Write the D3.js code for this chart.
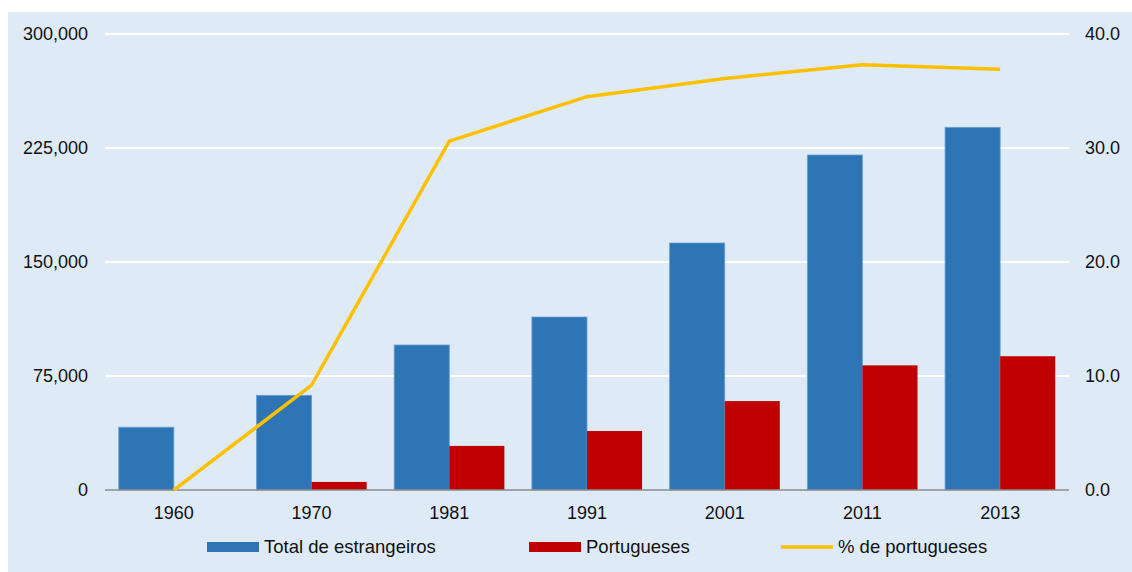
<!DOCTYPE html>
<html>
<head>
<meta charset="utf-8">
<script src="https://cdn.jsdelivr.net/npm/d3@7"></script>
<style>
  body { margin: 0; background: #ffffff; }
  text { font-family: "Liberation Sans", Arial, sans-serif; fill: #111111; }
</style>
</head>
<body>
<div id="chart"></div>
<script>
// Data
var years = ["1960", "1970", "1981", "1991", "2001", "2011", "2013"];
var totalEstrangeiros = [41300, 62300, 95400, 113800, 162500, 220400, 238600];
var portugueses = [0, 5300, 29000, 38800, 58500, 82000, 88000];
var pctPortugueses = [0.0, 9.2, 30.6, 34.5, 36.1, 37.3, 36.9];
var leftTicks = [0, 75000, 150000, 225000, 300000];
var rightTicks = [0, 10, 20, 30, 40];

var svgWidth = 1132, svgHeight = 572;
var margin = { top: 34, right: 63, bottom: 82, left: 105 };
var width = svgWidth - margin.left - margin.right;
var height = svgHeight - margin.top - margin.bottom;
var fontSize = "18px";
var legendFont = "18.5px";

var svg = d3.select("#chart").append("svg")
    .attr("width", svgWidth)
    .attr("height", svgHeight);

// light blue panel
svg.append("rect")
    .attr("x", 8).attr("y", 12)
    .attr("width", svgWidth - 8).attr("height", svgHeight - 12)
    .attr("fill", "#deeaf6");

var g = svg.append("g")
    .attr("transform", `translate(${margin.left}, ${margin.top})`);

var x0 = d3.scaleBand().domain(years).range([0, width]).paddingInner(0.2).paddingOuter(0.1);
var x1 = d3.scaleBand().domain(["total", "port"]).range([0, x0.bandwidth()]);
var yLeft = d3.scaleLinear().domain([0, 300000]).range([height, 0]);
var yRight = d3.scaleLinear().domain([0, 40]).range([height, 0]);

// gridlines
g.selectAll(".grid")
    .data(leftTicks.slice(1))
    .enter().append("line")
    .attr("x1", 0).attr("x2", width)
    .attr("y1", d => yLeft(d)).attr("y2", d => yLeft(d))
    .attr("stroke", "#ffffff").attr("stroke-width", 2);

// left axis
var leftAxis = d3.axisLeft(yLeft).tickValues(leftTicks).tickSize(0).tickPadding(17)
    .tickFormat(d3.format(","));
g.append("g").call(leftAxis)
    .call(a => a.select(".domain").remove())
    .selectAll("text").style("font-size", fontSize);

// right axis
var rightAxis = d3.axisRight(yRight).tickValues(rightTicks).tickSize(0).tickPadding(16)
    .tickFormat(d3.format(".1f"));
g.append("g").attr("transform", `translate(${width}, 0)`).call(rightAxis)
    .call(a => a.select(".domain").remove())
    .selectAll("text").style("font-size", fontSize);

// bars
var groups = g.selectAll(".yr")
    .data(years)
    .enter().append("g")
    .attr("transform", d => `translate(${x0(d)}, 0)`);

groups.append("rect")
    .attr("x", x1("total"))
    .attr("y", (d, i) => yLeft(totalEstrangeiros[i]))
    .attr("width", x1.bandwidth())
    .attr("height", (d, i) => height - yLeft(totalEstrangeiros[i]))
    .attr("fill", "#2e75b6")
    .attr("stroke", "#6b9fd1").attr("stroke-width", 0.8);

groups.filter((d, i) => portugueses[i] > 0).append("rect")
    .attr("x", x1("port"))
    .attr("y", d => yLeft(portugueses[years.indexOf(d)]))
    .attr("width", x1.bandwidth())
    .attr("height", d => height - yLeft(portugueses[years.indexOf(d)]))
    .attr("fill", "#c00000");

// x axis baseline
g.append("line")
    .attr("x1", 0).attr("x2", width)
    .attr("y1", height).attr("y2", height)
    .attr("stroke", "#8c8c8c").attr("stroke-width", 1.5);

var bottomAxis = d3.axisBottom(x0).tickSize(0).tickPadding(16);
g.append("g").attr("transform", `translate(0, ${height})`).call(bottomAxis)
    .call(a => a.select(".domain").remove())
    .selectAll("text").style("font-size", fontSize);

// percentage line
var line = d3.line()
    .x((d, i) => x0(years[i]) + x0.bandwidth() / 2)
    .y(d => yRight(d));

g.append("path")
    .datum(pctPortugueses)
    .attr("d", line)
    .attr("fill", "none")
    .attr("stroke", "#ffc000")
    .attr("stroke-width", 3.5)
    .attr("stroke-linejoin", "round");

// legend
var legend = svg.append("g");
var ly = 547;
legend.append("rect").attr("x", 207).attr("y", ly - 5).attr("width", 52).attr("height", 10).attr("fill", "#2e75b6");
legend.append("text").attr("x", 264).attr("y", ly).attr("dy", "0.35em").style("font-size", legendFont).text("Total de estrangeiros");
legend.append("rect").attr("x", 529).attr("y", ly - 5).attr("width", 52).attr("height", 10).attr("fill", "#c00000");
legend.append("text").attr("x", 586).attr("y", ly).attr("dy", "0.35em").style("font-size", legendFont).text("Portugueses");
legend.append("line").attr("x1", 781).attr("x2", 833).attr("y1", ly).attr("y2", ly)
    .attr("stroke", "#ffc000").attr("stroke-width", 3.5);
legend.append("text").attr("x", 838).attr("y", ly).attr("dy", "0.35em").style("font-size", legendFont).text("% de portugueses");
</script>
</body>
</html>
